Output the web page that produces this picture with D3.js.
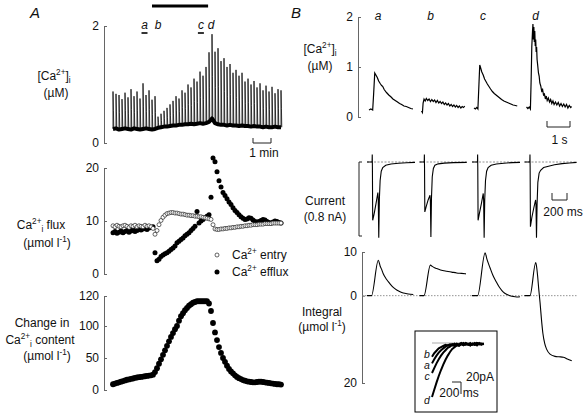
<!DOCTYPE html>
<html><head><meta charset="utf-8">
<script src="https://cdn.jsdelivr.net/npm/d3@7"></script>
<style>
body{margin:0;background:#fff;}
svg{display:block;font-family:"Liberation Sans",Arial,sans-serif;}
</style></head><body>
<svg id="c" width="586" height="415"></svg>
<script>
// ---------------- Panel A data ----------------
const beatInterval = 10; // s between stimuli
const beatPeakA = [0.88,0.84,0.82,0.75,0.86,0.78,0.92,0.80,0.88,0.76,1.02,0.82,0.90,0.74,0.80,
  0.45,0.50,0.55,0.60,0.66,0.72,0.80,0.76,0.90,0.86,1.00,0.95,1.10,1.05,1.22,1.15,1.30,1.55,1.86,
  1.56,1.62,1.40,1.45,1.30,1.35,1.20,1.25,1.15,1.20,1.05,1.10,1.00,1.06,0.95,1.02,0.90,0.98,0.88,0.96,0.85,0.92,0.90];
const beatBaseA = [0.24,0.25,0.23,0.24,0.25,0.24,0.23,0.25,0.24,0.23,0.24,0.25,0.24,0.23,0.24,
  0.26,0.27,0.28,0.28,0.29,0.30,0.30,0.31,0.31,0.32,0.32,0.33,0.32,0.33,0.34,0.33,0.34,0.36,0.42,
  0.34,0.32,0.31,0.31,0.30,0.31,0.30,0.30,0.29,0.30,0.29,0.29,0.28,0.29,0.28,0.28,0.27,0.28,0.27,0.27,0.28,0.27,0.27];
const sampleInterval = 20/3; // s between flux / content samples
const entryA = [9.1,8.9,9.2,9.0,8.9,9.1,9.2,9.0,8.8,9.1,9.0,9.2,8.9,9.1,9.0,8.9,9.2,9.0,9.1,8.9,
  8.6,7.5,8.2,9.3,10.1,10.7,11.1,11.4,11.5,11.6,11.6,11.5,11.5,11.4,11.3,11.3,11.2,11.1,11.1,11.0,
  11.0,10.9,10.9,10.8,10.8,10.7,10.6,10.5,10.4,10.3,9.3,8.5,8.4,8.4,8.5,
  8.5,8.6,8.6,8.7,8.7,8.8,8.8,8.9,8.9,
  9.0,9.0,9.1,9.1,9.2,9.2,9.3,9.3,9.3,9.4,9.4,9.4,9.5,9.5,9.5,9.5,9.6,9.6,9.6,9.6,9.6];
const effluxA = [7.8,8.0,7.7,7.9,8.1,7.8,8.0,8.2,7.9,8.1,8.3,8.0,8.2,8.4,8.3,8.5,8.6,8.4,8.7,8.8,
  8.9,4.0,2.5,2.8,3.3,3.6,3.8,4.0,4.3,4.6,4.9,5.3,5.9,6.2,6.5,6.8,7.2,7.5,7.8,8.2,8.6,
  9.0,11.8,9.6,10.0,10.3,10.6,10.9,11.2,14.5,21.9,21.2,19.3,17.6,16.4,15.4,14.8,14.2,13.6,13.1,12.5,
  12.0,11.6,11.2,
  10.8,10.5,10.3,10.4,10.6,10.5,10.2,9.9,9.8,9.9,10.1,10.3,10.2,9.9,9.7,9.6,9.8,10.0,9.9,9.7,9.6];
const contentA = [9,10,11,12,13,14,15,16,16.5,17.5,18,19,19.5,20,20.5,21,21.5,22,22.5,23,
  24,28,34,41,48,55,62,69,76,83,89,95,100,103.5,106.5,108.5,110.5,112,113.5,114.5,
  115.5,116,116.5,116.5,116.5,116.5,116.5,116.5,115,110,102,90,78,67,58,50,44,38,33,29,
  26,23,20.5,18.5,17,15.5,14.5,13.5,13,12.5,12,12,12.5,13,13,12.5,12,11.5,11,10.5,10,9.5,9,9,8.5];
const ticksCaA = [0,2];
const ticksFluxA = [0,10,20];
const ticksContentA = [0,50,100,120];
const markLabels = ["a","b","c","d"];
const markTimes = [105,150,293,327];
const underlined = ["a","c"];
const underlineSpan = 20; // s
const drugBar = [130,317];
const legendLabels = ["entry","efflux"];

// ---------------- Panel B data ----------------
const traceNames = ["a","b","c","d"];
const caB_a = [[0,0.14],[0.08,0.16],[0.16,0.14],[0.2,0.45],[0.25,0.88],[0.3,0.84],[0.36,0.79],[0.42,0.72],[0.5,0.66],[0.55,0.63],[0.6,0.61],[0.66,0.55],[0.76,0.49],[0.86,0.44],[0.96,0.4],[1.04,0.36],[1.14,0.33],[1.24,0.3],[1.33,0.27],[1.42,0.25],[1.52,0.22],[1.62,0.21],[1.72,0.19],[1.82,0.17],[1.91,0.16]];
const caB_b = [[0,0.12],[0.04,0.09],[0.07,0.28],[0.11,0.36],[0.16,0.32],[0.21,0.37],[0.27,0.33],[0.33,0.36],[0.39,0.31],[0.45,0.35],[0.51,0.31],[0.57,0.34],[0.63,0.29],[0.69,0.33],[0.75,0.28],[0.81,0.31],[0.87,0.27],[0.93,0.3],[0.99,0.25],[1.05,0.28],[1.11,0.24],[1.17,0.27],[1.23,0.22],[1.29,0.25],[1.35,0.21],[1.41,0.24],[1.47,0.2],[1.53,0.23],[1.59,0.19],[1.65,0.22],[1.71,0.18],[1.77,0.21],[1.83,0.19],[1.88,0.22]];
const caB_c = [[0,0.18],[0.06,0.16],[0.12,0.19],[0.17,0.16],[0.21,0.6],[0.25,1.04],[0.29,0.98],[0.34,0.9],[0.4,0.84],[0.46,0.76],[0.52,0.71],[0.58,0.66],[0.65,0.61],[0.72,0.56],[0.8,0.51],[0.88,0.47],[0.96,0.44],[1.04,0.41],[1.12,0.38],[1.2,0.35],[1.3,0.32],[1.4,0.3],[1.5,0.28],[1.6,0.26],[1.7,0.24],[1.8,0.23],[1.88,0.22]];
const caB_d = [[0,0.2],[0.06,0.17],[0.12,0.2],[0.17,0.16],[0.2,0.7],[0.23,1.4],[0.26,1.7],[0.28,1.86],[0.3,1.55],[0.32,1.8],[0.34,1.5],[0.36,1.72],[0.38,1.42],[0.4,1.55],[0.42,1.3],[0.44,1.4],[0.46,1.15],[0.49,1.02],[0.52,0.88],[0.55,0.82],[0.58,0.68],[0.62,0.62],[0.66,0.52],[0.7,0.55],[0.74,0.44],[0.78,0.46],[0.82,0.36],[0.86,0.42],[0.9,0.33],[0.95,0.38],[1.0,0.3],[1.05,0.35],[1.1,0.27],[1.15,0.32],[1.2,0.25],[1.26,0.3],[1.32,0.24],[1.38,0.29],[1.44,0.22],[1.5,0.27],[1.56,0.21],[1.62,0.26],[1.68,0.2],[1.74,0.25],[1.8,0.18],[1.86,0.23],[1.92,0.19],[1.96,0.21]];
const ticksCaB = [0,1,2];

const curB_a = [[0,0],[68,0],[70,0.08],[72,-0.05],[76,-0.63],[95,-0.56],[120,-0.45],[145,-0.33],[150,-0.4],[157,-0.82],[165,-0.4],[175,-0.2],[190,-0.1],[210,-0.06],[250,-0.035],[320,-0.022],[420,-0.014],[530,-0.008],[640,-0.004]];
const curB_b = [[0,0],[63,0],[65,0.08],[67,-0.05],[71,-0.54],[90,-0.48],[115,-0.41],[140,-0.36],[145,-0.42],[152,-0.81],[160,-0.38],[170,-0.16],[185,-0.07],[205,-0.035],[250,-0.02],[330,-0.012],[450,-0.007],[630,-0.004]];
const curB_c = [[0,0],[73,0],[75,0.08],[77,-0.05],[81,-0.63],[100,-0.55],[125,-0.45],[150,-0.34],[155,-0.41],[162,-0.82],[170,-0.4],[180,-0.2],[195,-0.1],[215,-0.06],[255,-0.035],[325,-0.022],[425,-0.013],[535,-0.007],[640,-0.004]];
const curB_d = [[0,0],[71,0],[73,0.08],[75,-0.05],[79,-0.70],[98,-0.6],[123,-0.5],[148,-0.41],[153,-0.46],[160,-0.82],[168,-0.45],[178,-0.22],[195,-0.12],[215,-0.09],[255,-0.06],[320,-0.045],[400,-0.03],[500,-0.018],[600,-0.01],[695,-0.004]];
const currentBar = 0.8; // nA

const intB_a = [[0,0],[60,0],[151,8.1],[175,6.8],[200,5.8],[217,5.0],[250,4.0],[280,3.3],[307,2.7],[350,1.9],[396,1.3],[440,0.9],[484,0.6],[550,0.4],[617,0.25]];
const intB_b = [[0,0],[60,0],[145,7.0],[170,6.7],[200,6.4],[229,6.2],[280,5.9],[363,5.6],[430,5.4],[496,5.2],[560,5.1],[620,5.0]];
const intB_c = [[0,0],[75,0],[175,9.8],[200,8.3],[240,6.4],[280,4.6],[329,3.0],[370,1.8],[418,0.8],[460,0.3],[507,0],[550,-0.2],[596,-0.3],[640,-0.25]];
const intB_d = [[0,0],[73,0],[150,7.6],[160,6.8],[175,4.5],[190,1.5],[207,-1.5],[225,-5.2],[245,-8.6],[270,-11],[296,-12.3],[340,-13.4],[407,-13.9],[460,-14.0],[518,-14.1],[570,-14.5],[630,-14.9]];
const ticksIntB = [10,0,-20];

// inset: tail currents (pA), sampled every 50 ms
const tailStep = 50;
const tail_d = [-90,-78,-66,-55,-45,-36,-28,-21,-15,-10,-7,-4,-5,-2,-4,-1,-3,0,-3,-1,-4,0,-2,-1];
const tail_c = [-50,-42,-34,-27,-21,-16,-12,-8,-6,-3,-5,-2,-4,-1,-3,0,-2,-4,-1,-3,0,-2,-3,-1];
const tail_a = [-34,-27,-21,-16,-12,-9,-6,-4,-5,-2,-4,-1,-3,-2,0,-3,-1,-4,-2,0,-3,-1,-2,-1];
const tail_b = [-23,-17,-13,-9,-7,-5,-3,-4,-2,-3,-1,-4,-2,0,-3,-1,-2,-4,-1,-3,0,-2,-1,-2];
const insetBarT = 200, insetBarI = 20;

// ---------------- drawing ----------------
const svg = d3.select("#c");
const FS = 12;
const INK = "#111", AX = "#666";

function rich(x, y, parts, opt={}) {
  const fs = opt.fs || FS;
  const t = svg.append("text").attr("x", x).attr("y", y)
    .attr("text-anchor", opt.anchor || "middle").attr("fill", INK)
    .style("font-size", fs + "px").style("font-style", opt.italic ? "italic" : null);
  let shift = 0;
  parts.forEach(p => {
    const [s, k] = Array.isArray(p) ? p : [p, ""];
    const target = k === "sup" ? -0.38 * fs : k === "sub" ? 0.28 * fs : 0;
    t.append("tspan").attr("dy", target - shift)
      .style("font-size", k ? (0.68 * fs) + "px" : null).text(s);
    shift = target;
  });
  return t;
}
function yAxis(scale, x, ticks, fmt) {
  const ax = d3.axisLeft(scale).tickValues(ticks).tickSizeInner(-3).tickSizeOuter(0).tickPadding(5)
    .tickFormat(fmt || (d => String(d)));
  const g = svg.append("g").attr("transform", `translate(${x},0)`).call(ax)
    .attr("font-family", "Liberation Sans, Arial, sans-serif").attr("font-size", FS);
  g.select(".domain").attr("stroke", AX);
  g.selectAll(".tick line").attr("stroke", AX);
  g.selectAll(".tick text").attr("fill", INK);
  return g;
}
const line = (xs, ys) => d3.line().x(d => xs(d[0])).y(d => ys(d[1]));

// panel letters
rich(30, 18, ["A"], {anchor: "start", fs: 15, italic: true});
rich(291, 18, ["B"], {anchor: "start", fs: 15, italic: true});

// ===== A top =====
const xA = d3.scaleLinear().domain([0, 560]).range([113, 281]);
const yCaA = d3.scaleLinear().domain([0, 2]).range([143, 26]);
yAxis(yCaA, 104, ticksCaA);
const beats = beatPeakA.map((p, j) => ({t: j * beatInterval, p, b: beatBaseA[j]}));
svg.append("g").selectAll("path").data(beats).join("path")
  .attr("d", d => line(xA, yCaA)([[d.t, d.b], [d.t, d.p], [d.t + 1.5, d.b + 0.5 * (d.p - d.b)], [d.t + 2.5, d.b]]))
  .attr("fill", "none").attr("stroke", "#262626").attr("stroke-width", 0.95);
svg.append("path").attr("d", line(xA, yCaA)(beats.map(d => [d.t, d.b])))
  .attr("fill", "none").attr("stroke", "#000").attr("stroke-width", 4).attr("stroke-linejoin", "round");
rich(54, 80, ["[Ca", ["2+", "sup"], "]", ["i", "sub"]]);
rich(56, 97, ["(\u00b5M)"]);
// drug bar & markers
svg.append("line").attr("x1", xA(drugBar[0])).attr("x2", xA(drugBar[1])).attr("y1", 6).attr("y2", 6)
  .attr("stroke", "#000").attr("stroke-width", 3.2);
markLabels.forEach((m, i) => {
  rich(xA(markTimes[i]), 29, [m], {italic: true});
  if (underlined.includes(m)) svg.append("line")
    .attr("x1", xA(markTimes[i] - underlineSpan / 2)).attr("x2", xA(markTimes[i] + underlineSpan / 2))
    .attr("y1", 33).attr("y2", 33).attr("stroke", "#000").attr("stroke-width", 1.6);
});
// 1 min scale bar
{
  const x0 = 253, x1 = x0 + xA(60) - xA(0);
  svg.append("path").attr("d", `M${x0},138V143H${x1}V138`).attr("fill", "none").attr("stroke", "#222").attr("stroke-width", 1);
  rich((x0 + x1) / 2 + 2, 157, ["1 min"]);
}

// ===== A middle =====
const yFluxA = d3.scaleLinear().domain([0, 20]).range([274, 168]);
yAxis(yFluxA, 104, ticksFluxA);
svg.append("g").selectAll("circle").data(effluxA).join("circle")
  .attr("cx", (d, i) => xA(i * sampleInterval)).attr("cy", d => yFluxA(d)).attr("r", 2.5).attr("fill", "#000");
svg.append("g").selectAll("circle").data(entryA).join("circle")
  .attr("cx", (d, i) => xA(i * sampleInterval)).attr("cy", d => yFluxA(d)).attr("r", 2)
  .attr("fill", "#fff").attr("stroke", "#222").attr("stroke-width", 0.7);
rich(41, 229, ["Ca", ["2+", "sup"], ["i", "sub"], " flux"]);
rich(47, 247, ["(\u00b5mol l", ["-1", "sup"], ")"]);
// legend
svg.append("circle").attr("cx", 217).attr("cy", 255).attr("r", 2).attr("fill", "#fff").attr("stroke", "#222").attr("stroke-width", 0.7);
svg.append("circle").attr("cx", 217).attr("cy", 272).attr("r", 2.5).attr("fill", "#000");
rich(232, 259, ["Ca", ["2+", "sup"], " " + legendLabels[0]], {anchor: "start"});
rich(232, 276, ["Ca", ["2+", "sup"], " " + legendLabels[1]], {anchor: "start"});

// ===== A bottom =====
const yContA = d3.scaleLinear().domain([0, 50, 100, 120]).range([390, 358, 326, 296]);
yAxis(yContA, 104, ticksContentA);
svg.append("g").selectAll("circle").data(contentA).join("circle")
  .attr("cx", (d, i) => xA(i * sampleInterval)).attr("cy", d => yContA(d)).attr("r", 2.9).attr("fill", "#000");
rich(42, 327, ["Change in"]);
rich(40, 344, ["Ca", ["2+", "sup"], ["i", "sub"], " content"]);
rich(47, 360, ["(\u00b5mol l", ["-1", "sup"], ")"]);

// ===== B top =====
const band = d3.scalePoint().domain(traceNames).range([367, 524.5]);
const yCaB = d3.scaleLinear().domain([0, 2]).range([117, 17]);
yAxis(yCaB, 358, ticksCaB);
const xTop = d3.scaleLinear().domain([0, 1]).range([0, 23]);
[caB_a, caB_b, caB_c, caB_d].forEach((tr, k) => {
  const off = band(traceNames[k]) + 2;
  svg.append("path").attr("d", d3.line().x(d => off + xTop(d[0])).y(d => yCaB(d[1]))(tr))
    .attr("fill", "none").attr("stroke", "#000").attr("stroke-width", 1.2);
  rich(off + 9, 20, [traceNames[k]], {italic: true});
});
rich(320, 53, ["[Ca", ["2+", "sup"], "]", ["i", "sub"]]);
rich(320, 70, ["(\u00b5M)"]);
{
  const x0 = 547, x1 = x0 + xTop(1) - xTop(0);
  svg.append("path").attr("d", `M${x0},121V127H${x1}V121`).attr("fill", "none").attr("stroke", "#222");
  rich((x0 + x1) / 2 + 1, 144, ["1 s"]);
}

// ===== B middle (current) =====
const xMs = d3.scaleLinear().domain([0, 200]).range([0, 15]);
const yCur = d3.scaleLinear().domain([-currentBar, 0]).range([236, 162]);
[curB_a, curB_b, curB_c, curB_d].forEach((tr, k) => {
  const off = band(traceNames[k]);
  const tEnd = tr[tr.length - 1][0];
  svg.append("line").attr("x1", off).attr("x2", off + xMs(tEnd)).attr("y1", yCur(0)).attr("y2", yCur(0))
    .attr("stroke", "#777").attr("stroke-width", 0.8).attr("stroke-dasharray", "2,1.5");
  svg.append("path").attr("d", d3.line().x(d => off + xMs(d[0])).y(d => yCur(d[1]))(tr))
    .attr("fill", "none").attr("stroke", "#000").attr("stroke-width", 1.1);
});
svg.append("path").attr("d", `M362,${yCur(0)}H359V${yCur(-currentBar)}H362`).attr("fill", "none").attr("stroke", "#222");
rich(325, 205, ["Current"]);
rich(325, 221, ["(0.8 nA)"]);
{
  const x0 = 552, x1 = x0 + xMs(200) - xMs(0);
  svg.append("path").attr("d", `M${x0},193V200H${x1}V193`).attr("fill", "none").attr("stroke", "#222");
  rich(563, 216, ["200 ms"]);
}

// ===== B bottom (integral) =====
const yInt = d3.scaleLinear().domain([-20, 10]).range([383, 252]);
yAxis(yInt, 362, ticksIntB, d => String(Math.abs(d)));
svg.append("line").attr("x1", 362).attr("x2", 577).attr("y1", yInt(0)).attr("y2", yInt(0))
  .attr("stroke", "#777").attr("stroke-width", 0.8).attr("stroke-dasharray", "1.5,1.5");
[intB_a, intB_b, intB_c, intB_d].forEach((tr, k) => {
  const off = band(traceNames[k]);
  svg.append("path").attr("d", d3.line().x(d => off + xMs(d[0])).y(d => yInt(d[1])).curve(d3.curveMonotoneX)(tr))
    .attr("fill", "none").attr("stroke", "#000").attr("stroke-width", 1.1);
});
rich(322, 316, ["Integral"]);
rich(322, 331, ["(\u00b5mol l", ["-1", "sup"], ")"]);

// ===== inset =====
svg.append("rect").attr("x", 415).attr("y", 331).attr("width", 82).attr("height", 81)
  .attr("fill", "#fff").attr("stroke", "#000").attr("stroke-width", 1);
const xIn = d3.scaleLinear().domain([0, 1000]).range([432, 477]);
const yIn = d3.scaleLinear().domain([-100, 0]).range([403, 343]);
svg.append("line").attr("x1", xIn(0)).attr("x2", xIn(1150)).attr("y1", yIn(0)).attr("y2", yIn(0))
  .attr("stroke", "#888").attr("stroke-width", 0.7);
[tail_a, tail_b, tail_c, tail_d].forEach(tr => {
  svg.append("path").attr("d", d3.line().x((d, i) => xIn(i * tailStep)).y(d => yIn(d))(tr))
    .attr("fill", "none").attr("stroke", "#000").attr("stroke-width", 2);
});
[["b", 358], ["a", 369], ["c", 380], ["d", 404]].forEach(([l, y]) => rich(427, y, [l], {italic: true, fs: 10.5}));
{
  const xr = 461, yb = 382;
  const w = xIn(insetBarT) - xIn(0), h = yIn(0) - yIn(-insetBarI);
  svg.append("path").attr("d", `M${xr - w},${yb}H${xr}V${yb - h}`).attr("fill", "none").attr("stroke", "#222");
  rich(466, 381, ["20pA"], {anchor: "start"});
  rich(459, 397, ["200 ms"]);
}
</script>
</body></html>
